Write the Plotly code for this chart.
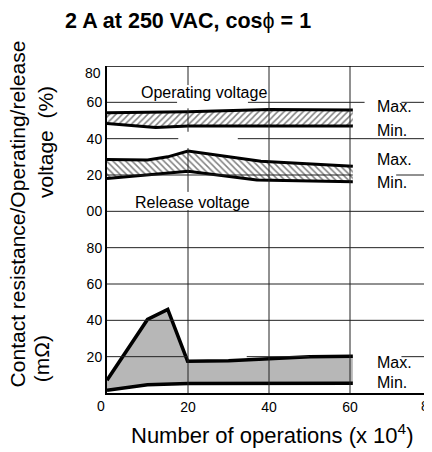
import plotly.graph_objects as go

# ---------------- data ----------------
# x: number of operations (x 10^4)
op_max_x = [0, 20, 40, 60.7]
op_max_y = [54.3, 54.8, 56.0, 55.8]          # operating voltage max (%)
op_min_x = [0, 12, 20, 40, 60.7]
op_min_y = [48.4, 46.2, 47.0, 47.0, 47.0]    # operating voltage min (%)

rel_max_x = [0, 10, 15, 20, 38, 60.7]
rel_max_y = [28.6, 28.2, 30.0, 33.2, 27.6, 24.8]  # release voltage max (%)
rel_min_x = [0, 20, 37, 60.7]
rel_min_y = [18.0, 22.0, 17.2, 16.3]              # release voltage min (%)

cr_max_x = [0, 10, 15, 19.9, 30, 50, 60.7]
cr_max_y = [7.0, 40.5, 46.0, 17.5, 17.8, 20.0, 20.2]  # contact resistance max (mOhm)
cr_min_x = [0, 10, 20, 60.7]
cr_min_y = [1.5, 4.5, 5.2, 5.3]                       # contact resistance min (mOhm)

x_ticks = [20, 40, 60]
y_tickvals = [20, 40, 60, 80, 100, 120, 140, 160]
y_ticktext = ["20", "40", "60", "80", "00", "20", "40", "60"]
PCT_OFFSET = 100  # upper (voltage %) panel sits above the 0-100 mOhm panel

# ---------------- figure ----------------
FONT = "Liberation Sans, Arial, sans-serif"
NARROW = "Liberation Sans Narrow, Arial Narrow, Liberation Sans, sans-serif"

fig = go.Figure()


def band(xmax, ymax, xmin, ymin, offset, pattern, lw):
    px = list(xmax) + list(reversed(xmin))
    py = [v + offset for v in ymax] + [v + offset for v in reversed(ymin)]
    fig.add_trace(go.Scatter(
        x=px, y=py, mode="lines", fill="toself",
        line=dict(width=0, color="rgba(0,0,0,0)"),
        fillcolor="white",
        fillpattern=pattern,
        hoverinfo="skip", showlegend=False))
    fig.add_trace(go.Scatter(x=xmax, y=[v + offset for v in ymax], mode="lines",
                             line=dict(color="black", width=lw), showlegend=False))
    fig.add_trace(go.Scatter(x=xmin, y=[v + offset for v in ymin], mode="lines",
                             line=dict(color="black", width=lw), showlegend=False))


hatch_fw = dict(shape="/", fgcolor="black", bgcolor="white", size=4.5, solidity=0.33)
hatch_bw = dict(shape="\\", fgcolor="black", bgcolor="white", size=4.5, solidity=0.33)
dots = dict(shape=".", fgcolor="#555", bgcolor="#d2d2d2", size=2, solidity=0.5)

band(op_max_x, op_max_y, op_min_x, op_min_y, PCT_OFFSET, hatch_fw, 3)
band(rel_max_x, rel_max_y, rel_min_x, rel_min_y, PCT_OFFSET, hatch_bw, 3)
band(cr_max_x, cr_max_y, cr_min_x, cr_min_y, 0, dots, 3.5)

# grid segments (as drawn in the original, with gaps)
segs_h = [
    (160, 0, 17.3), (160, 34.8, 63.6), (160, 72.7, 80),
    (140, 0, 17.6), (140, 32.3, 80),
    (120, 0, 60.7), (120, 71.4, 80),
    (100, 0, 80),
    (80, 0, 80), (60, 0, 80), (40, 0, 80),
    (20, 0, 20), (20, 34.5, 50), (20, 72.7, 80),
]
segs_v = [
    (20, 169.5, 180), (20, 143.8, 156.7), (20, 110.7, 134.8), (20, 0, 100.7),
    (40, 0, 180), (60, 0, 180),
]
shapes = []
for y, x0, x1 in segs_h:
    shapes.append(dict(type="line", xref="x", yref="y", x0=x0, x1=x1, y0=y, y1=y,
                       line=dict(color="#222", width=1), layer="above"))
for x, y0, y1 in segs_v:
    shapes.append(dict(type="line", xref="x", yref="y", x0=x, x1=x, y0=y0, y1=y1,
                       line=dict(color="#222", width=1), layer="above"))
shapes.append(dict(type="line", xref="x", yref="y", x0=0, x1=80, y0=180, y1=180,
                   line=dict(color="black", width=1.3), layer="above"))

ann = []
# side labels
for txt, yv in [("Max.", 157.6), ("Min.", 144.7), ("Max.", 128.8), ("Min.", 115.8),
                ("Max.", 16.6), ("Min.", 5.9)]:
    ann.append(dict(text=txt, x=66.1, y=yv, xref="x", yref="y", xanchor="left",
                    yanchor="middle", showarrow=False, font=dict(family=FONT, size=16, color="black")))
ann.append(dict(text="Operating voltage", x=24, y=165.3, xref="x", yref="y", showarrow=False,
                font=dict(family=FONT, size=16, color="black")))
ann.append(dict(text="Release voltage", x=21.1, y=104.8, xref="x", yref="y", showarrow=False,
                font=dict(family=FONT, size=16, color="black")))
# extra tick labels
ann.append(dict(text="80", x=0, y=180, xref="x", yref="y", xanchor="right", yanchor="middle",
                xshift=-4, yshift=-7, showarrow=False, font=dict(family=NARROW, size=14, color="black")))
ann.append(dict(text="0", x=0, y=0, xref="x", yref="paper", xanchor="center", yanchor="top",
                xshift=-6, yshift=-3, showarrow=False, font=dict(family=NARROW, size=14, color="black")))
ann.append(dict(text="80", x=80, y=0, xref="x", yref="paper", xanchor="center", yanchor="top",
                xshift=-2, yshift=-3, showarrow=False, font=dict(family=NARROW, size=14, color="black")))
# title
ann.append(dict(text="<b>2 A at 250 VAC, cos</b>ϕ<b> = 1</b>", x=-0.136, y=1.138, xref="paper", yref="paper",
                xanchor="left", yanchor="middle", showarrow=False,
                font=dict(family=FONT, size=21.5, color="black")))
# axis titles
ann.append(dict(text="Number of operations (x 10<sup>4</sup>)", x=0.508, y=-0.126, xref="paper", yref="paper",
                xanchor="center", yanchor="middle", showarrow=False,
                font=dict(family=FONT, size=22, color="black")))
ann.append(dict(text="Contact resistance/Operating/release", x=-0.275, y=0.549, xref="paper", yref="paper",
                textangle=-90, xanchor="center", yanchor="middle", showarrow=False,
                font=dict(family=FONT, size=21, color="black")))
ann.append(dict(text="(mΩ)", x=-0.2, y=0.104, xref="paper", yref="paper",
                textangle=-90, xanchor="center", yanchor="middle", showarrow=False,
                font=dict(family=FONT, size=21, color="black")))
ann.append(dict(text="voltage  (%)", x=-0.19, y=0.769, xref="paper", yref="paper",
                textangle=-90, xanchor="center", yanchor="middle", showarrow=False,
                font=dict(family=FONT, size=21, color="black")))

# The page body keeps its default 8px margin, so the figure is sized to fit
# the 432x452 window inside it.
fig.update_layout(
    width=424, height=444,
    margin=dict(l=99, r=1, t=58, b=59, autoexpand=False),
    paper_bgcolor="white", plot_bgcolor="white",
    showlegend=False,
    shapes=shapes, annotations=ann,
    xaxis=dict(range=[0, 80], tickvals=x_ticks, showgrid=False, zeroline=False,
               showline=True, linecolor="black", linewidth=2, ticks="",
               tickfont=dict(family=NARROW, size=14, color="black")),
    yaxis=dict(range=[0, 180], tickvals=y_tickvals, ticktext=y_ticktext, showgrid=False,
               zeroline=False, showline=True, linecolor="black", linewidth=2, ticks="",
               tickfont=dict(family=NARROW, size=14, color="black")),
)

fig.write_html("out.html")
